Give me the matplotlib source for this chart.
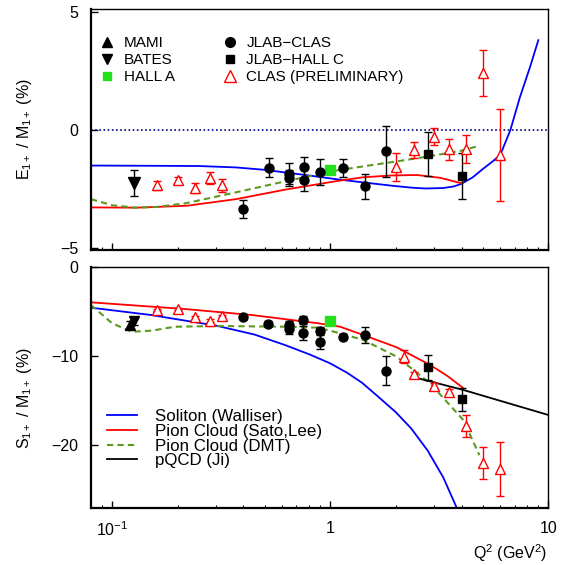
import numpy as np
import matplotlib
matplotlib.use("Agg")
import matplotlib.pyplot as plt
from matplotlib.lines import Line2D
from matplotlib.ticker import FixedLocator, FixedFormatter, LogLocator, NullFormatter

plt.rcParams['font.family'] = ['Liberation Sans', 'DejaVu Sans']
plt.rcParams['mathtext.fontset'] = 'custom'
plt.rcParams['mathtext.rm'] = 'Liberation Sans'
plt.rcParams['mathtext.it'] = 'Liberation Sans:italic'
plt.rcParams['mathtext.bf'] = 'Liberation Sans:bold'
plt.rcParams['axes.unicode_minus'] = True

# ---------------- E1+/M1+ data ----------------
bates_q2_e = [0.126]
bates_e = [-2.25]
bates_e_err = [0.55]

halla_q2_e = [1.0]
halla_e = [-1.68]

clas_q2_e = [0.40, 0.525, 0.65, 0.65, 0.755, 0.755, 0.90, 1.15, 1.45, 1.81]
clas_e = [-3.35, -1.60, -1.85, -2.02, -1.57, -2.09, -1.78, -1.60, -2.37, -0.90]
clas_e_err = [0.38, 0.40, 0.45, 0.35, 0.45, 0.50, 0.55, 0.38, 0.53, 1.07]

hallc_q2_e = [2.8, 4.0]
hallc_e = [-1.01, -1.96]
hallc_e_err = [0.92, 0.97]

prel_q2_e = [0.16, 0.20, 0.24, 0.28, 0.32, 2.0, 2.41, 3.0, 3.49, 4.2, 5.0, 6.03]
prel_e = [-2.34, -2.13, -2.45, -2.03, -2.34, -1.57, -0.84, -0.28, -0.81, -0.81, 2.42, -1.04]
prel_e_err = [0.18, 0.15, 0.2, 0.25, 0.28, 0.59, 0.33, 0.35, 0.45, 0.6, 0.96, 1.95]

# theory curves (E1+/M1+)
sol_q2_e = [0.08, 0.15, 0.25, 0.37, 0.5, 0.62, 0.8, 1.05, 1.35, 1.95, 2.4, 2.75, 3.3, 3.7, 4.0,
            4.5, 5.05, 5.6, 6.03, 6.7, 7.4, 8.27, 9.0]
sol_e = [-1.50, -1.51, -1.52, -1.58, -1.68, -1.79, -1.92, -2.07, -2.19, -2.36, -2.44, -2.47, -2.45,
         -2.38, -2.27, -2.0, -1.62, -1.3, -1.04, 0.0, 1.37, 2.7, 3.8]

sl_q2_e = [0.08, 0.13, 0.22, 0.37, 0.62, 1.05, 1.4, 1.9, 2.5, 3.2, 4.0]
sl_e = [-3.27, -3.28, -3.20, -2.92, -2.52, -2.17, -2.0, -1.92, -1.90, -2.02, -2.25]

dmt_q2_e = [0.08, 0.1, 0.127, 0.16, 0.216, 0.367, 0.62, 1.05, 1.5, 2.0, 2.8, 4.0, 4.8]
dmt_e = [-2.92, -3.18, -3.28, -3.25, -3.10, -2.64, -2.17, -1.72, -1.50, -1.33, -1.12, -0.87, -0.67]

# ---------------- S1+/M1+ data ----------------
mami_q2_s = [0.121]
mami_s = [-6.5]
mami_s_err = [0.45]

bates_q2_s = [0.126]
bates_s = [-6.1]
bates_s_err = [0.4]

halla_q2_s = [1.0]
halla_s = [-6.07]

clas_q2_s = [0.40, 0.52, 0.65, 0.65, 0.75, 0.75, 0.90, 0.90, 1.14, 1.45, 1.80]
clas_s = [-5.6, -6.38, -6.53, -6.98, -5.97, -7.39, -7.16, -8.43, -7.84, -7.65, -11.64]
clas_s_err = [0.3, 0.3, 0.4, 0.5, 0.4, 0.8, 0.4, 0.8, 0.3, 0.9, 1.6]

hallc_q2_s = [2.8, 4.0]
hallc_s = [-11.27, -14.85]
hallc_s_err = [1.4, 1.27]

prel_q2_s = [0.16, 0.20, 0.24, 0.28, 0.32, 2.18, 2.41, 3.0, 3.5, 4.19, 5.0, 6.03]
prel_s = [-4.85, -4.74, -5.67, -6.04, -5.52, -10.08, -12.05, -13.32, -14.07, -17.84, -22.0, -22.65]
prel_s_err = [0.15, 0.15, 0.15, 0.15, 0.15, 0.7, 0.3, 0.3, 0.4, 1.2, 1.8, 3.0]

sol_q2_s = [0.08, 0.15, 0.2, 0.3, 0.45, 0.62, 0.8, 1.0, 1.2, 1.4, 1.65, 2.0, 2.35, 2.8, 3.3, 3.9]
sol_s = [-4.59, -5.40, -5.9, -6.60, -7.60, -8.77, -9.80, -10.82, -11.9, -13.0, -14.5, -16.3, -18.1,
         -20.6, -23.6, -27.6]

sl_q2_s = [0.08, 0.216, 0.437, 0.884, 1.0, 1.11, 1.42, 2.02, 2.87, 3.43, 4.08]
sl_s = [-3.99, -4.74, -5.41, -6.34, -6.55, -6.72, -7.65, -9.03, -11.0, -12.2, -13.6]

dmt_q2_s = [0.08, 0.1, 0.123, 0.152, 0.194, 0.31, 0.62, 0.88, 1.0, 1.42, 2.02, 2.87, 4.08, 4.83]
dmt_s = [-4.29, -6.34, -7.28, -7.16, -6.72, -6.64, -6.72, -6.83, -7.16, -8.2, -10.08, -13.06, -17.17, -21.1]

pqcd_q2_s = [2.57, 4.08, 10.0]
pqcd_s = [-12.54, -13.8, -16.6]

# ---------------- styles ----------------
BLUE = '#0000ff'
RED = '#ff0000'
GREEN = '#5b9a1f'
LIME = '#22e01a'

fig = plt.figure(figsize=(5.69, 5.65), dpi=100)
W, H = 569.0, 565.0
axL, axR = 91.0, 548.3
ax1 = fig.add_axes([axL / W, 1 - 250.0 / H, (axR - axL) / W, (250.0 - 8.7) / H])
ax2 = fig.add_axes([axL / W, 1 - 508.3 / H, (axR - axL) / W, (508.3 - 266.7) / H])

eb_kw = dict(linestyle='none', elinewidth=1.0, capsize=3.2, capthick=1.0)


def style_axis(ax):
    ax.set_xscale('log')
    ax.set_xlim(0.08, 10)
    for s in ax.spines.values():
        s.set_linewidth(1.0)
    ax.spines['left'].set_linewidth(1.6)
    ax.spines['bottom'].set_linewidth(1.6)
    ax.xaxis.set_major_locator(FixedLocator([0.1, 1, 10]))
    ax.xaxis.set_minor_locator(LogLocator(base=10, subs=np.arange(2, 10)))
    ax.xaxis.set_minor_formatter(NullFormatter())
    ax.tick_params(axis='both', which='major', direction='in', length=5, width=1.0,
                   labelsize=11.5, top=False, right=False)
    ax.tick_params(axis='x', which='minor', direction='in', length=2.5, width=0.8, top=False)
    ax.tick_params(axis='y', pad=9)


# -------- top panel --------
style_axis(ax1)
ax1.set_ylim(-5.07, 5.13)
ax1.set_yticks([-5, 0, 5])
ax1.set_yticklabels(['\u22125', '0', '5'])
ax1.xaxis.set_major_formatter(NullFormatter())
ax1.axhline(0, color='#000080', linestyle=(0, (1, 1.5)), linewidth=1.2)

ax1.plot(sol_q2_e, sol_e, color=BLUE, lw=1.3)
ax1.plot(sl_q2_e, sl_e, color=RED, lw=1.3)
ax1.plot(dmt_q2_e, dmt_e, color=GREEN, lw=1.5, dashes=(3, 2))

ax1.errorbar(clas_q2_e, clas_e, yerr=clas_e_err, fmt='o', color='black', ms=6.5, **eb_kw)
ax1.errorbar(hallc_q2_e, hallc_e, yerr=hallc_e_err, fmt='s', color='black', ms=5.5, **eb_kw)
ax1.errorbar(bates_q2_e, bates_e, yerr=bates_e_err, fmt='v', color='black', ms=8, **eb_kw)
ax1.errorbar(prel_q2_e, prel_e, yerr=prel_e_err, fmt='^', color=RED, mfc='white', mec=RED,
             ms=7.5, mew=1.0, **eb_kw)
ax1.plot(halla_q2_e, halla_e, 's', color=LIME, ms=6.5, linestyle='none')

h_mami = Line2D([], [], marker='^', color='black', linestyle='none', ms=6.5)
h_bates = Line2D([], [], marker='v', color='black', linestyle='none', ms=6.5)
h_halla = Line2D([], [], marker='s', color=LIME, linestyle='none', ms=6)
h_clas = Line2D([], [], marker='o', color='black', linestyle='none', ms=7)
h_hallc = Line2D([], [], marker='s', color='black', linestyle='none', ms=6)
h_prel = Line2D([], [], marker='^', color=RED, mfc='white', linestyle='none', ms=8, mew=1.0)
leg1 = ax1.legend([h_mami, h_bates, h_halla, h_clas, h_hallc, h_prel],
                  ['MAMI', 'BATES', 'HALL A', 'JLAB\u2212CLAS', 'JLAB\u2212HALL C', 'CLAS (PRELIMINARY)'],
                  ncol=2, loc='upper left', bbox_to_anchor=(0.018, 0.885), frameon=False,
                  fontsize=11, handlelength=1.0, handletextpad=0.6, columnspacing=3.1,
                  labelspacing=0.18, borderpad=0, borderaxespad=0)

ax1.set_ylabel(r'E$_{\mathrm{1+}}$ / M$_{\mathrm{1+}}$ (%)', fontsize=11.5)
ax1.yaxis.set_label_coords(-0.125, 0.5)

# -------- bottom panel --------
style_axis(ax2)
ax2.set_ylim(-27.05, 0)
ax2.set_yticks([-20, -10, 0])
ax2.set_yticklabels(['\u221220', '\u221210', '0'])
ax2.xaxis.set_major_formatter(FixedFormatter([r'$10^{-1}$', '1', '10']))
ax2.tick_params(axis='x', which='major', pad=9)

ax2.plot(sol_q2_s, sol_s, color=BLUE, lw=1.3, label='Soliton (Walliser)')
ax2.plot(sl_q2_s, sl_s, color=RED, lw=1.3, label='Pion Cloud (Sato,Lee)')
ax2.plot(dmt_q2_s, dmt_s, color=GREEN, lw=1.5, dashes=(3, 2), label='Pion Cloud (DMT)')
ax2.plot(pqcd_q2_s, pqcd_s, color='black', lw=1.3, label='pQCD (Ji)')

ax2.errorbar(clas_q2_s, clas_s, yerr=clas_s_err, fmt='o', color='black', ms=6.5, **eb_kw)
ax2.errorbar(hallc_q2_s, hallc_s, yerr=hallc_s_err, fmt='s', color='black', ms=5.5, **eb_kw)
ax2.errorbar(mami_q2_s, mami_s, yerr=mami_s_err, fmt='^', color='black', ms=7, **eb_kw)
ax2.errorbar(bates_q2_s, bates_s, yerr=bates_s_err, fmt='v', color='black', ms=7, **eb_kw)
ax2.errorbar(prel_q2_s, prel_s, yerr=prel_s_err, fmt='^', color=RED, mfc='white', mec=RED,
             ms=7.5, mew=1.0, **eb_kw)
ax2.plot(halla_q2_s, halla_s, 's', color=LIME, ms=6.5, linestyle='none')

ax2.legend(loc='upper left', bbox_to_anchor=(0.034, 0.41), frameon=False, fontsize=12.2,
           handlelength=1.8, handletextpad=1.05, labelspacing=-0.02, borderpad=0, borderaxespad=0)

ax2.set_ylabel(r'S$_{\mathrm{1+}}$ / M$_{\mathrm{1+}}$ (%)', fontsize=11.5)
ax2.yaxis.set_label_coords(-0.125, 0.457)

fig.text(547 / W, 1 - 553 / H, r'Q$^{\mathrm{2}}$ (GeV$^{\mathrm{2}}$)', ha='right', va='center', fontsize=11.5)

fig.savefig('out.png', dpi=100)
